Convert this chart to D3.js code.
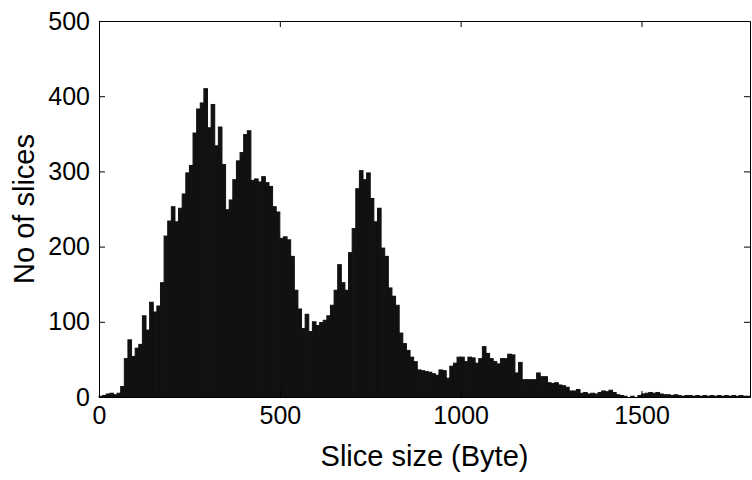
<!DOCTYPE html>
<html><head><meta charset="utf-8">
<script src="https://cdn.jsdelivr.net/npm/d3@7"></script>
<style>body{margin:0;background:#fff}svg{display:block}</style>
</head><body>
<svg id="c" width="752" height="480"></svg>
<script>
// Histogram of slice sizes (bin width 10 bytes, 0..1800)
const binWidth = 10;
const binStarts = d3.range(0, 1800, binWidth);
const counts = [
  1,2,4,5,3,5,14,51,76,54,
  65,70,108,89,126,113,121,152,214,234,
  253,233,251,270,298,308,351,383,391,410,
  358,389,334,359,309,249,262,289,314,325,
  349,354,288,290,286,293,285,280,253,246,
  211,213,209,187,142,117,91,110,87,100,
  95,99,102,108,122,142,176,152,142,192,
  224,277,301,289,298,264,233,251,198,187,
  145,134,122,85,71,62,53,47,36,35,
  34,33,31,29,36,35,25,41,45,53,
  53,47,53,52,45,51,67,58,51,47,
  44,51,51,57,56,32,46,23,23,23,
  23,32,27,27,19,18,19,16,15,13,
  8,8,10,5,6,4,5,4,6,8,
  7,9,6,3,2,1,0,1,0,2,
  4,5,6,5,6,4,3,3,2,3,
  2,1,2,2,1,2,1,2,1,2,
  1,2,1,2,1,2,1,2,1,1
];
const xTicks = [0, 500, 1000, 1500];
const yTicks = [0, 100, 200, 300, 400, 500];
const xLabel = "Slice size (Byte)";
const yLabel = "No of slices";

const L = 99, R = 750, T = 21, B = 397;
const svg = d3.select("#c");
const font = "'Liberation Sans', Arial, Helvetica, sans-serif";

const x = d3.scaleLinear().domain([0, 1800]).range([L, R]);
const y = d3.scaleLinear().domain([0, 500]).range([B, T]);

const data = binStarts.map((s, i) => ({ s, v: counts[i] }));

svg.append("g").selectAll("rect").data(data.filter(d => d.v > 0)).join("rect")
  .attr("x", d => x(d.s))
  .attr("width", d => x(d.s + binWidth) - x(d.s))
  .attr("y", d => y(d.v))
  .attr("height", d => y(0) - y(d.v))
  .attr("fill", "#111")
  .attr("stroke", "#111")
  .attr("stroke-width", 1);

function style(g, showText) {
  g.select(".domain").attr("stroke", "#000").attr("stroke-width", 1);
  g.selectAll(".tick line").attr("stroke", "#000").attr("stroke-width", 1);
  g.selectAll(".tick text").attr("fill", "#000").style("font-family", font).style("font-size", "25px");
  if (!showText) g.selectAll(".tick text").remove();
}

svg.append("g").attr("transform", `translate(0,${B})`)
  .call(d3.axisBottom(x).tickValues(xTicks).tickFormat(d3.format("d")).tickSize(-6).tickSizeOuter(0).tickPadding(9))
  .call(g => style(g, true));
svg.append("g").attr("transform", `translate(0,${T})`)
  .call(d3.axisTop(x).tickValues(xTicks).tickSize(-6).tickSizeOuter(0))
  .call(g => style(g, false));
svg.append("g").attr("transform", `translate(${L},0)`)
  .call(d3.axisLeft(y).tickValues(yTicks).tickFormat(d3.format("d")).tickSize(-6).tickSizeOuter(0).tickPadding(9))
  .call(g => style(g, true));
svg.append("g").attr("transform", `translate(${R},0)`)
  .call(d3.axisRight(y).tickValues(yTicks).tickSize(-6).tickSizeOuter(0))
  .call(g => style(g, false));

svg.append("text")
  .attr("x", (L + R) / 2).attr("y", 466)
  .attr("text-anchor", "middle")
  .style("font-family", font).style("font-size", "29px").attr("fill", "#000")
  .text(xLabel);

svg.append("text")
  .attr("transform", `translate(34,${(T + B) / 2}) rotate(-90)`)
  .attr("text-anchor", "middle")
  .style("font-family", font).style("font-size", "29px").attr("fill", "#000")
  .text(yLabel);
</script>
</body></html>
